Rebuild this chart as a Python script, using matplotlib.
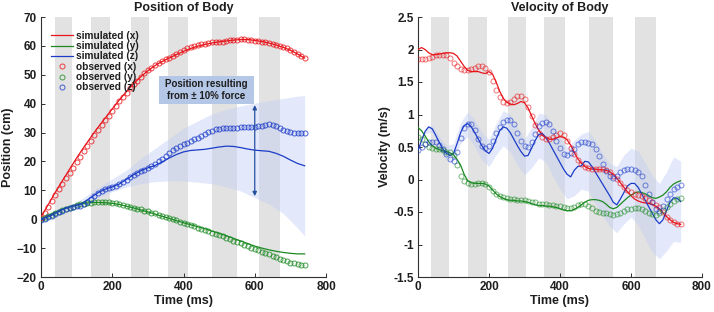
import numpy as np
import matplotlib
matplotlib.use("Agg")
import matplotlib.pyplot as plt
from matplotlib.patches import Rectangle

plt.rcParams['font.family'] = ['Liberation Sans', 'DejaVu Sans']

# ---------------- data ----------------
stim_bands = [(38, 88), (141, 193), (253, 303), (356, 414), (481, 549), (611, 671)]

t_obs = list(range(0, 750, 10))      # observed samples (ms)
t_sim_pos = list(range(0, 750, 20))  # simulated position samples (ms)
t_sim_vel = list(range(0, 750, 10))  # simulated velocity samples (ms)
t_band_pos = [0, 40, 80, 120, 160, 200, 240, 280, 320, 360, 400, 440, 480, 520, 560, 600, 640, 680, 720, 740]
t_band_vel = list(range(0, 750, 20))

# Position (cm)
pos_sim_x = [0.8, 5.0, 9.3, 13.3, 17.3, 21.2, 24.9, 28.4, 31.8, 35.0, 38.2, 41.3, 44.2, 46.9, 49.3, 51.4,
             53.2, 54.6, 55.8, 57.0, 58.1, 59.1, 59.9, 60.5, 61.0, 61.4, 61.7, 62.0, 62.2, 62.2, 61.9, 61.5,
             61.0, 60.3, 59.5, 58.5, 57.2, 55.8]
pos_sim_y = [0.0, 1.2, 2.4, 3.5, 4.3, 5.0, 5.5, 5.8, 5.8, 5.7, 5.5, 5.1, 4.5, 3.9, 3.2, 2.5, 1.8, 1.0, 0.3,
             -0.5, -1.2, -1.9, -2.6, -3.3, -4.1, -4.9, -5.7, -6.6, -7.5, -8.4, -9.3, -10.0, -10.6, -11.1,
             -11.5, -11.8, -12.0, -12.0]
pos_sim_z = [0.0, 0.8, 2.0, 3.3, 4.2, 4.8, 5.8, 7.5, 9.2, 10.4, 11.2, 12.2, 13.8, 15.4, 16.8, 17.8, 18.6,
             19.8, 21.2, 22.4, 23.3, 23.8, 24.0, 24.2, 24.6, 25.0, 25.3, 25.2, 24.8, 24.3, 23.9, 23.7, 23.5,
             22.8, 21.8, 20.5, 19.3, 18.5]
pos_obs_x = [0.3, 2.3, 4.3, 6.3, 8.3, 10.3, 12.3, 14.2, 16.0, 17.9, 19.8, 21.7, 23.6, 25.4, 27.2, 29.0,
             30.8, 32.5, 34.2, 35.8, 37.5, 39.2, 40.8, 42.3, 43.8, 45.3, 46.7, 48.0, 49.3, 50.5, 51.6, 52.5,
             53.3, 54.0, 54.7, 55.3, 55.9, 56.6, 57.3, 58.0, 58.6, 59.1, 59.6, 60.0, 60.3, 60.6, 60.8, 61.0,
             61.2, 61.3, 61.4, 61.5, 61.7, 61.9, 62.0, 62.1, 62.3, 62.4, 62.2, 62.0, 61.8, 61.7, 61.5, 61.2,
             60.9, 60.6, 60.3, 60.0, 59.6, 59.1, 58.6, 58.0, 57.3, 56.5, 55.7]
pos_obs_y = [0.0, 0.5, 1.0, 1.6, 2.1, 2.6, 3.1, 3.6, 4.0, 4.4, 4.8, 5.1, 5.4, 5.6, 5.7, 5.8, 5.8, 5.8, 5.8,
             5.8, 5.7, 5.5, 5.3, 5.0, 4.7, 4.4, 4.0, 3.7, 3.4, 3.0, 2.7, 2.3, 2.0, 1.6, 1.2, 0.8, 0.4, 0.0,
             -0.4, -0.8, -1.2, -1.6, -2.0, -2.4, -2.9, -3.3, -3.7, -4.2, -4.6, -5.0, -5.4, -5.9, -6.4, -6.9,
             -7.4, -7.9, -8.4, -8.9, -9.4, -9.9, -10.4, -10.8, -11.2, -11.7, -12.2, -12.7, -13.2, -13.7,
             -14.2, -14.6, -15.0, -15.3, -15.6, -15.8, -16.0]
pos_obs_z = [-0.2, 0.2, 0.7, 1.2, 1.8, 2.4, 3.0, 3.6, 4.0, 4.3, 4.5, 4.7, 5.2, 6.0, 7.0, 8.0, 9.0, 9.8, 10.3,
             10.7, 11.1, 11.6, 12.2, 12.9, 13.7, 14.5, 15.3, 16.0, 16.6, 17.2, 17.8, 18.4, 19.2, 20.1, 21.0,
             22.0, 23.0, 24.0, 24.8, 25.5, 26.0, 26.5, 27.0, 27.6, 28.2, 28.9, 29.6, 30.2, 30.7, 31.1, 31.4,
             31.6, 31.6, 31.5, 31.5, 31.6, 31.8, 31.9, 31.9, 31.9, 32.0, 32.1, 32.4, 32.7, 32.8, 32.6, 32.1,
             31.5, 31.0, 30.6, 30.3, 30.0, 29.9, 29.8, 29.8]
pos_band_upper = [0.0, 2.2, 4.5, 7.5, 11.0, 14.0, 17.0, 21.0, 24.5, 28.0, 31.5, 34.0, 36.5, 38.0, 39.2,
                  40.2, 41.0, 41.8, 42.6, 42.8]
pos_band_lower = [0.0, 1.8, 3.5, 5.0, 7.5, 9.5, 11.2, 12.3, 13.0, 13.3, 13.2, 12.8, 12.3, 11.2, 9.8, 7.5,
                  5.2, 2.0, -3.0, -5.8]

# Velocity (m/s)
vel_sim_x = [2.00, 2.03, 2.00, 1.95, 1.92, 1.92, 1.93, 1.94, 1.95, 1.95, 1.94, 1.90, 1.82, 1.74, 1.68, 1.66,
             1.66, 1.66, 1.64, 1.63, 1.66, 1.62, 1.50, 1.36, 1.25, 1.19, 1.16, 1.15, 1.17, 1.20, 1.18, 1.10,
             0.98, 0.86, 0.76, 0.68, 0.64, 0.62, 0.62, 0.64, 0.66, 0.65, 0.61, 0.53, 0.42, 0.32, 0.25, 0.20,
             0.17, 0.16, 0.16, 0.15, 0.15, 0.14, 0.12, 0.08, 0.02, -0.05, -0.12, -0.19, -0.25, -0.30, -0.33,
             -0.35, -0.36, -0.37, -0.38, -0.41, -0.45, -0.51, -0.57, -0.62, -0.66, -0.68, -0.69]
vel_sim_y = [0.80, 0.75, 0.67, 0.58, 0.52, 0.48, 0.46, 0.44, 0.43, 0.41, 0.38, 0.31, 0.22, 0.08, -0.02,
             -0.05, -0.06, -0.06, -0.06, -0.07, -0.10, -0.16, -0.22, -0.26, -0.29, -0.31, -0.32, -0.32,
             -0.33, -0.33, -0.34, -0.35, -0.37, -0.39, -0.40, -0.40, -0.41, -0.41, -0.42, -0.43, -0.45,
             -0.47, -0.48, -0.48, -0.46, -0.43, -0.39, -0.35, -0.32, -0.31, -0.31, -0.32, -0.34, -0.38,
             -0.43, -0.45, -0.43, -0.38, -0.33, -0.28, -0.24, -0.21, -0.19, -0.20, -0.22, -0.25, -0.28,
             -0.29, -0.27, -0.24, -0.19, -0.12, -0.07, -0.04, -0.02]
vel_sim_z = [0.45, 0.60, 0.74, 0.81, 0.78, 0.68, 0.57, 0.47, 0.40, 0.37, 0.40, 0.55, 0.72, 0.83, 0.86,
             0.81, 0.72, 0.62, 0.52, 0.44, 0.40, 0.48, 0.62, 0.75, 0.81, 0.79, 0.72, 0.62, 0.52, 0.43, 0.36,
             0.37, 0.48, 0.60, 0.69, 0.71, 0.65, 0.56, 0.46, 0.36, 0.26, 0.16, 0.08, 0.04, 0.14, 0.20, 0.21,
             0.28, 0.27, 0.20, 0.11, 0.02, -0.07, -0.16, -0.25, -0.35, -0.39, -0.30, -0.20, -0.10, -0.06,
             -0.06, -0.12, -0.22, -0.32, -0.42, -0.52, -0.62, -0.68, -0.62, -0.48, -0.35, -0.28, -0.29, -0.34]
vel_obs_x = [1.85, 1.85, 1.86, 1.87, 1.89, 1.91, 1.92, 1.92, 1.91, 1.87, 1.80, 1.74, 1.70, 1.68, 1.68, 1.70,
             1.72, 1.74, 1.75, 1.72, 1.65, 1.52, 1.38, 1.27, 1.20, 1.18, 1.19, 1.24, 1.28, 1.29, 1.24, 1.12,
             0.98, 0.84, 0.72, 0.65, 0.63, 0.63, 0.65, 0.69, 0.71, 0.69, 0.60, 0.49, 0.39, 0.30, 0.24, 0.20,
             0.17, 0.16, 0.16, 0.16, 0.16, 0.14, 0.11, 0.06, 0.01, -0.05, -0.12, -0.16, -0.19, -0.22, -0.24,
             -0.26, -0.29, -0.32, -0.35, -0.39, -0.43, -0.50, -0.58, -0.63, -0.66, -0.68, -0.69]
vel_obs_y = [0.66, 0.62, 0.55, 0.50, 0.48, 0.47, 0.47, 0.45, 0.43, 0.42, 0.38, 0.22, 0.06, -0.03, -0.06,
             -0.07, -0.07, -0.06, -0.05, -0.07, -0.11, -0.17, -0.22, -0.25, -0.27, -0.29, -0.30, -0.30,
             -0.31, -0.31, -0.32, -0.33, -0.34, -0.35, -0.37, -0.38, -0.38, -0.39, -0.39, -0.40, -0.41,
             -0.43, -0.44, -0.44, -0.42, -0.39, -0.37, -0.37, -0.40, -0.44, -0.48, -0.50, -0.51, -0.52,
             -0.53, -0.54, -0.53, -0.51, -0.48, -0.46, -0.45, -0.44, -0.44, -0.45, -0.48, -0.51, -0.53,
             -0.54, -0.52, -0.47, -0.42, -0.37, -0.33, -0.30, -0.28]
vel_obs_z = [0.45, 0.50, 0.54, 0.57, 0.58, 0.57, 0.53, 0.47, 0.40, 0.32, 0.29, 0.42, 0.64, 0.80, 0.86, 0.85,
             0.76, 0.62, 0.52, 0.49, 0.52, 0.60, 0.71, 0.81, 0.88, 0.92, 0.91, 0.86, 0.72, 0.60, 0.52, 0.50,
             0.58, 0.70, 0.82, 0.87, 0.88, 0.85, 0.74, 0.60, 0.48, 0.40, 0.38, 0.41, 0.47, 0.54, 0.57, 0.57,
             0.56, 0.54, 0.47, 0.36, 0.24, 0.13, 0.05, 0.02, 0.06, 0.12, 0.15, 0.16, 0.16, 0.15, 0.12, 0.05,
             -0.08, -0.22, -0.35, -0.45, -0.48, -0.40, -0.30, -0.22, -0.15, -0.11, -0.09]
vel_band_upper = [0.45, 0.77, 0.84, 0.66, 0.52, 0.55, 0.88, 1.04, 0.92, 0.72, 0.62, 0.86, 1.06, 1.00, 0.80,
                  0.62, 0.80, 1.02, 1.00, 0.82, 0.66, 0.50, 0.60, 0.70, 0.74, 0.60, 0.40, 0.25, 0.20, 0.38,
                  0.48, 0.44, 0.26, 0.06, -0.06, 0.12, 0.35, 0.28]
vel_band_lower = [0.45, 0.71, 0.72, 0.48, 0.30, 0.28, 0.56, 0.66, 0.50, 0.30, 0.20, 0.38, 0.52, 0.42, 0.22,
                  0.07, 0.18, 0.33, 0.27, 0.05, -0.15, -0.30, -0.25, -0.15, -0.18, -0.38, -0.56, -0.72,
                  -0.82, -0.68, -0.58, -0.70, -0.92, -1.12, -1.22, -1.10, -0.95, -0.97]

labels = ['simulated (x)', 'simulated (y)', 'simulated (z)',
          'observed (x)', 'observed (y)', 'observed (z)']

# ---------------- style ----------------
C_R = '#e8141a'
C_G = '#1b8a22'
C_B = '#1c3cc8'
C_GRAY = '#e2e2e2'
C_BAND = '#c3cff5'
TXT = '#1e1e1e'

fig = plt.figure(figsize=(7.14, 3.12), dpi=100)
ax1 = fig.add_axes([41/714, 1-277/312, 285/714, 260/312])
ax2 = fig.add_axes([418/714, 1-277/312, 284/714, 260/312])


def style(ax):
    for s in ['top', 'right']:
        ax.spines[s].set_visible(False)
    for s in ['left', 'bottom']:
        ax.spines[s].set_color('#303030')
        ax.spines[s].set_linewidth(0.8)
    ax.tick_params(direction='in', length=3, width=0.7, colors='#303030', labelsize=8.5, pad=3)
    for lab in ax.get_xticklabels() + ax.get_yticklabels():
        lab.set_fontweight('bold')
        lab.set_color(TXT)
    for a0, a1 in stim_bands:
        ax.axvspan(a0, a1, color=C_GRAY, zorder=0, lw=0)


# ---------------- position ----------------
ax1.set_xlim(0, 800)
ax1.set_ylim(-20, 70)
ax1.set_xticks([0, 200, 400, 600, 800])
ax1.set_yticks(list(range(-20, 71, 10)))
style(ax1)
ax1.fill_between(t_band_pos, pos_band_lower, pos_band_upper, color=C_BAND, alpha=0.45, lw=0, zorder=1)
l1, = ax1.plot(t_sim_pos, pos_sim_x, color=C_R, lw=0.9, zorder=3)
l2, = ax1.plot(t_sim_pos, pos_sim_y, color=C_G, lw=0.9, zorder=3)
l3, = ax1.plot(t_sim_pos, pos_sim_z, color=C_B, lw=0.9, zorder=3)
mk = dict(ls='none', marker='o', ms=3.6, mfc='none', mew=0.7, alpha=0.8, zorder=4)
m1, = ax1.plot(t_obs, pos_obs_x, mec=C_R, **mk)
m2, = ax1.plot(t_obs, pos_obs_y, mec=C_G, **mk)
m3, = ax1.plot(t_obs, pos_obs_z, mec=C_B, **mk)
ax1.set_title('Position of Body', fontsize=9, fontweight='bold', color=TXT, pad=4)
ax1.set_xlabel('Time (ms)', fontsize=9, fontweight='bold', color=TXT, labelpad=1)
ax1.set_ylabel('Position (cm)', fontsize=9, fontweight='bold', color=TXT, labelpad=2)
leg = ax1.legend([l1, l2, l3, m1, m2, m3], labels, loc='upper left', bbox_to_anchor=(0.015, 0.97),
                 frameon=False, handlelength=2.15, handletextpad=0.25, labelspacing=0.03,
                 borderaxespad=0.2, prop={'weight': 'bold', 'size': 7.3})
for txt in leg.get_texts():
    txt.set_color(TXT)

ax1.add_patch(Rectangle((331, 39.9), 267, 9.7, facecolor='#b4c7e7', edgecolor='none', zorder=5))
ax1.text(464.5, 44.75, 'Position resulting\nfrom ± 10% force', ha='center', va='center',
         fontsize=7, fontweight='bold', color=TXT, linespacing=1.15, zorder=6)
ax1.annotate('', xy=(600, 8.0), xytext=(600, 39.5),
             arrowprops=dict(arrowstyle='<|-|>', color='#2550a0', lw=0.9, mutation_scale=6,
                             shrinkA=0, shrinkB=0), zorder=6)

# ---------------- velocity ----------------
ax2.set_xlim(0, 800)
ax2.set_ylim(-1.5, 2.5)
ax2.set_xticks([0, 200, 400, 600, 800])
yt = [-1.5, -1, -0.5, 0, 0.5, 1, 1.5, 2, 2.5]
ax2.set_yticks(yt)
ax2.set_yticklabels(['-1.5', '-1', '-0.5', '0', '0.5', '1', '1.5', '2', '2.5'])
style(ax2)
ax2.fill_between(t_band_vel, vel_band_lower, vel_band_upper, color=C_BAND, alpha=0.45, lw=0, zorder=1)
ax2.plot(t_sim_vel, vel_sim_x, color=C_R, lw=0.9, zorder=3)
ax2.plot(t_sim_vel, vel_sim_y, color=C_G, lw=0.9, zorder=3)
ax2.plot(t_sim_vel, vel_sim_z, color=C_B, lw=0.9, zorder=3)
mk2 = dict(ls='none', marker='o', ms=3.6, mfc='none', mew=0.7, alpha=0.6, zorder=4)
ax2.plot(t_obs, vel_obs_x, mec=C_R, **mk2)
ax2.plot(t_obs, vel_obs_y, mec=C_G, **mk2)
ax2.plot(t_obs, vel_obs_z, mec=C_B, **mk2)
ax2.set_title('Velocity of Body', fontsize=9, fontweight='bold', color=TXT, pad=4)
ax2.set_xlabel('Time (ms)', fontsize=9, fontweight='bold', color=TXT, labelpad=1)
ax2.set_ylabel('Velocity (m/s)', fontsize=9, fontweight='bold', color=TXT, labelpad=2)

fig.savefig('out.png', dpi=100)
